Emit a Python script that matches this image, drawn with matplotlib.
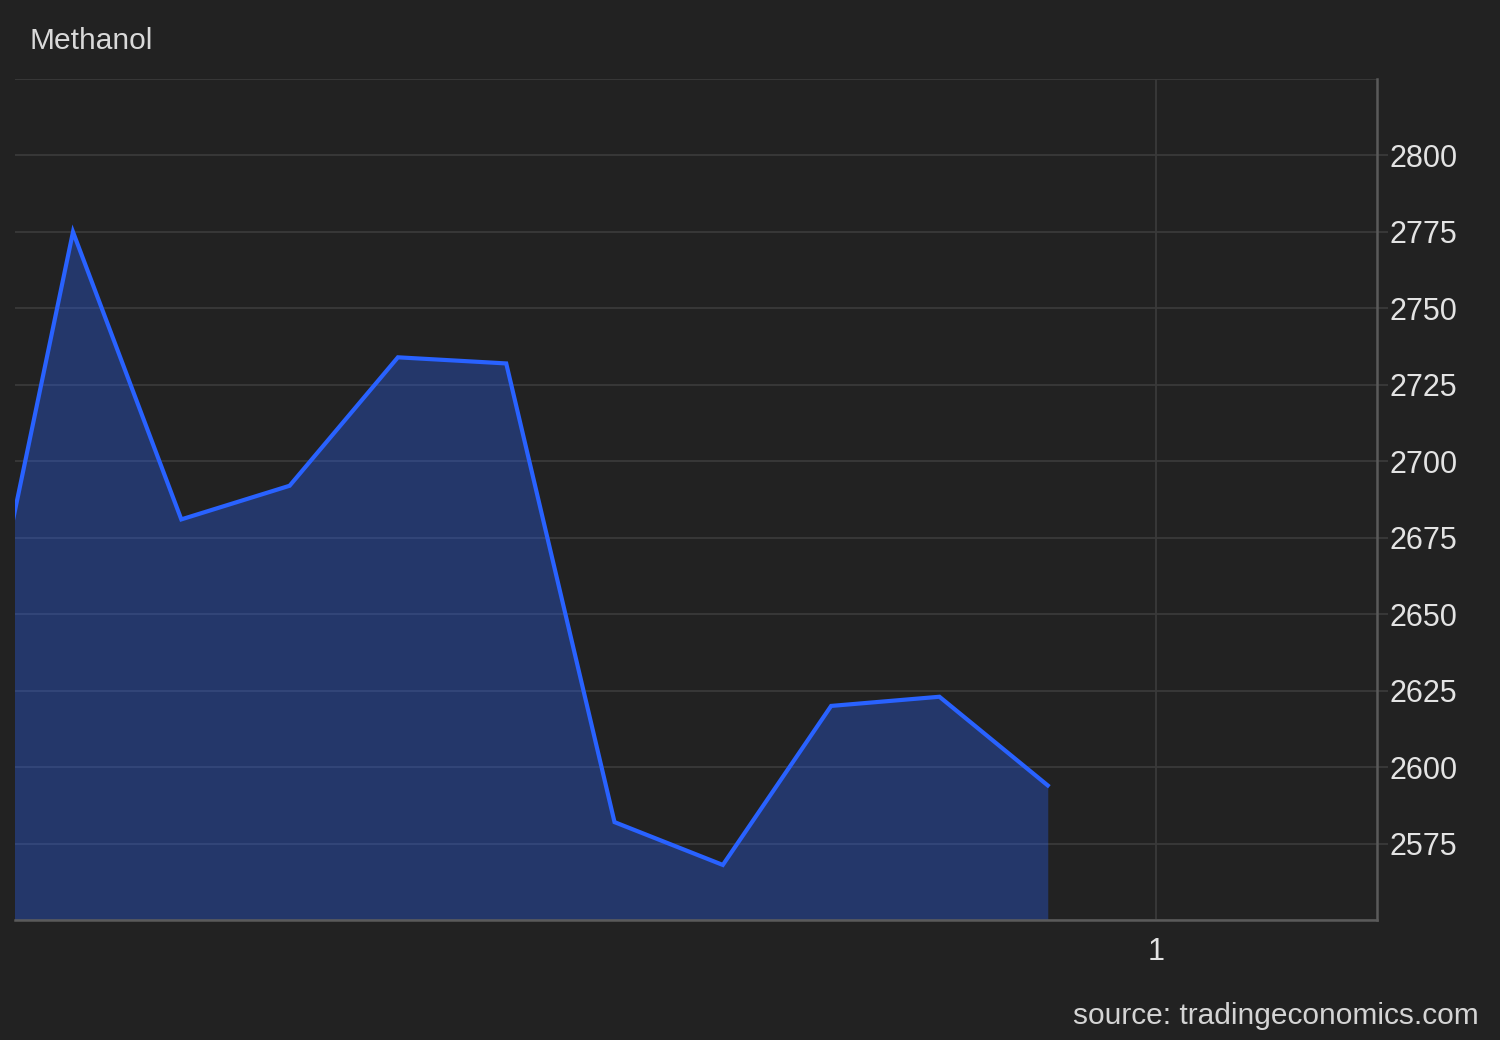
import matplotlib
matplotlib.use("Agg")
import matplotlib.pyplot as plt
import numpy as np

title = "Methanol"
source = "source: tradingeconomics.com"
x_idx = [0, 1, 2, 3, 4, 5, 6, 7, 8, 9, 10]
values = [2605, 2775, 2681, 2692, 2734, 2732, 2582, 2568, 2620, 2623, 2594]
y_ticks = [2575, 2600, 2625, 2650, 2675, 2700, 2725, 2750, 2775, 2800]
x_tick_pos = [11]
x_tick_labels = ["1"]

BG = "#222222"
LINE = "#2962ff"
GRID = "#3a3a3a"
TXT = "#e3e3e3"

plt.rcParams['font.family'] = ['Liberation Sans', 'DejaVu Sans']

fig = plt.figure(figsize=(15, 10.4), dpi=100, facecolor=BG)
ax = fig.add_axes([0.01, 0.1154, 0.908, 0.8086], facecolor=BG)

ylo, yhi = 2550, 2825
ax.set_ylim(ylo, yhi)
ax.set_xlim(0.4645, 13.04)

# gridlines
for g in range(2550, 2826, 25):
    ax.axhline(g, color=GRID, lw=1.3, zorder=0)
for xp in x_tick_pos:
    ax.axvline(xp, color=GRID, lw=1.3, zorder=0)

ax.fill_between(x_idx, values, ylo, color=LINE, alpha=0.33, lw=0, zorder=1)
ax.plot(x_idx, values, color=LINE, lw=3, zorder=2, solid_joinstyle='miter')

ax.yaxis.tick_right()
ax.set_yticks(y_ticks)
ax.set_yticklabels([str(v) for v in y_ticks])
ax.set_xticks(x_tick_pos)
ax.set_xticklabels(x_tick_labels)
ax.tick_params(axis='y', colors=TXT, labelsize=22, length=8, width=1.3, pad=1, color=GRID)
ax.tick_params(axis='x', colors=TXT, labelsize=22, length=0, pad=12)
for lbl in ax.get_yticklabels() + ax.get_xticklabels():
    lbl.set_color(TXT)

for s in ['top', 'left']:
    ax.spines[s].set_visible(False)
ax.spines['right'].set_color('#5a5a5a')
ax.spines['right'].set_linewidth(1.8)
ax.spines['bottom'].set_color('#5a5a5a')
ax.spines['bottom'].set_linewidth(1.8)

fig.text(29 / 1500, 1 - 41 / 1040, title, color="#d9d9d9", fontsize=21.5,
         ha='left', va='center')
fig.text(1479 / 1500, 1 - 1016 / 1040, source, color="#d4d4d4", fontsize=21.5,
         ha='right', va='center')

fig.savefig("out.png", dpi=100, facecolor=BG)
